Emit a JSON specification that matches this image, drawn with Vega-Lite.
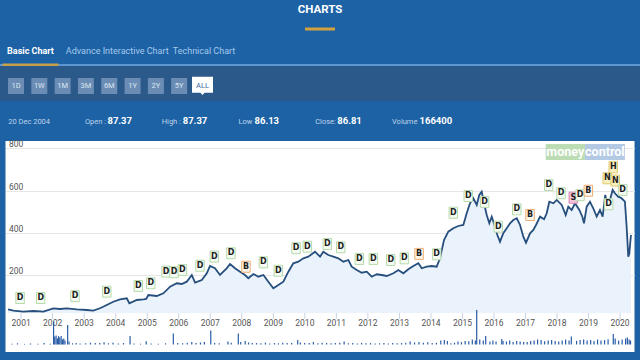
{
  "$schema": "https://vega.github.io/schema/vega-lite/v6.json",
  "background": "#1c62a5",
  "padding": {"left": 0, "right": 0, "top": 0, "bottom": 8},
  "spacing": 0,
  "bounds": "flush",
  "center": true,
  "config": {"view": {"stroke": null}, "font": "Roboto"},
  "vconcat": [
    {
      "width": 640, "height": 20,
      "data": {"values": [{"label": "CHARTS"}]},
      "mark": {"type": "text", "fontSize": 11.5, "fontWeight": "bold", "color": "#ffffff", "baseline": "middle"},
      "encoding": {"text": {"field": "label", "type": "nominal"}}
    },
    {
      "width": 640, "height": 18,
      "data": {"values": [{"k": "underline"}]},
      "mark": {"type": "point", "shape": "M-1,-0.1H1V0.1H-1Z", "size": 900, "filled": true, "color": "#d4a23c", "opacity": 1},
      "encoding": {}
    },
    {
      "width": 640, "height": 26,
      "data": {"values": [{"tab": "Basic Chart"}, {"tab": "Advance Interactive Chart"}, {"tab": "Technical Chart"}]},
      "encoding": {
        "x": {"field": "tab", "type": "nominal", "scale": {"type": "point", "padding": 0, "domain": ["Basic Chart", "Advance Interactive Chart", "Technical Chart"], "range": [30.5, 204]}, "axis": null},
        "text": {"field": "tab", "type": "nominal"}
      },
      "layer": [
        {"transform": [{"filter": "datum.tab === 'Basic Chart'"}], "mark": {"type": "text", "fontSize": 9, "fontWeight": "bold", "color": "#ffffff", "baseline": "middle"}},
        {"transform": [{"filter": "datum.tab !== 'Basic Chart'"}], "mark": {"type": "text", "fontSize": 9, "color": "#a6c8ec", "baseline": "middle"}}
      ]
    },
    {
      "width": 640, "height": 2,
      "view": {"fill": "#5c97d3", "stroke": null},
      "data": {"values": [{"tab": "Basic Chart"}]},
      "mark": {"type": "point", "shape": "M-1,-0.054H1V0.054H-1Z", "size": 3136, "filled": true, "color": "#c9a04a", "opacity": 1},
      "encoding": {
        "x": {"field": "tab", "type": "nominal", "scale": {"type": "point", "padding": 0, "domain": ["Basic Chart", "Advance Interactive Chart", "Technical Chart"], "range": [30.5, 204]}, "axis": null}
      }
    },
    {
      "width": 640, "height": 35,
      "view": {"fill": "#2b598a", "stroke": null},
      "data": {"values": [{"btn": "1D"}, {"btn": "1W"}, {"btn": "1M"}, {"btn": "3M"}, {"btn": "6M"}, {"btn": "1Y"}, {"btn": "2Y"}, {"btn": "5Y"}, {"btn": "ALL"}]},
      "encoding": {
        "x": {"field": "btn", "type": "nominal", "scale": {"type": "point", "padding": 0, "domain": ["1D", "1W", "1M", "3M", "6M", "1Y", "2Y", "5Y", "ALL"], "range": [16, 202.5]}, "axis": null}
      },
      "layer": [
        {"transform": [{"filter": "datum.btn !== 'ALL'"}], "mark": {"type": "point", "shape": "M-1,-0.69H1V1.31H-1Z", "size": 256, "filled": true, "color": "#6b8db5", "opacity": 1}},
        {"transform": [{"filter": "datum.btn === 'ALL'"}], "mark": {"type": "point", "shape": "M-1,-0.65H1V0.88H0.2L0,1.1L-0.2,0.88H-1Z", "size": 441, "filled": true, "color": "#ffffff", "opacity": 1}},
        {"mark": {"type": "text", "fontSize": 7.5, "dy": 2, "baseline": "middle"},
         "encoding": {"text": {"field": "btn", "type": "nominal"}, "color": {"condition": {"test": "datum.btn === 'ALL'", "value": "#3a6ba0"}, "value": "#dce6f1"}}}
      ]
    },
    {
      "width": 640, "height": 40,
      "data": {"values": [
        {"item": "date", "label": "20 Dec 2004"},
        {"item": "open", "label": "Open :", "value": 87.37},
        {"item": "high", "label": "High :", "value": 87.37},
        {"item": "low", "label": "Low", "value": 86.13},
        {"item": "close", "label": "Close:", "value": 86.81},
        {"item": "volume", "label": "Volume", "value": 166400}
      ]},
      "encoding": {
        "x": {"field": "item", "type": "nominal", "scale": {"type": "point", "padding": 0, "domain": ["date", "open", "high", "low", "close", "volume"], "range": [8.2, 392]}, "axis": null}
      },
      "layer": [
        {"mark": {"type": "text", "fontSize": 7.5, "color": "#bfd3ea", "align": "left", "baseline": "middle", "dy": 1},
         "encoding": {"text": {"field": "label", "type": "nominal"}}},
        {"transform": [{"filter": "datum.item === 'open'"}],
         "mark": {"type": "text", "fontSize": 9.5, "fontWeight": "bold", "color": "#ffffff", "align": "left", "baseline": "middle", "dx": 22.5},
         "encoding": {"text": {"field": "value", "type": "nominal"}}},
        {"transform": [{"filter": "datum.item === 'high'"}],
         "mark": {"type": "text", "fontSize": 9.5, "fontWeight": "bold", "color": "#ffffff", "align": "left", "baseline": "middle", "dx": 21},
         "encoding": {"text": {"field": "value", "type": "nominal"}}},
        {"transform": [{"filter": "datum.item === 'low'"}],
         "mark": {"type": "text", "fontSize": 9.5, "fontWeight": "bold", "color": "#ffffff", "align": "left", "baseline": "middle", "dx": 16},
         "encoding": {"text": {"field": "value", "type": "nominal"}}},
        {"transform": [{"filter": "datum.item === 'close'"}],
         "mark": {"type": "text", "fontSize": 9.5, "fontWeight": "bold", "color": "#ffffff", "align": "left", "baseline": "middle", "dx": 22},
         "encoding": {"text": {"field": "value", "type": "nominal"}}},
        {"transform": [{"filter": "datum.item === 'volume'"}],
         "mark": {"type": "text", "fontSize": 9.5, "fontWeight": "bold", "color": "#ffffff", "align": "left", "baseline": "middle", "dx": 27.5},
         "encoding": {"text": {"field": "value", "type": "nominal"}}}
      ]
    },
    {
      "width": 629, "height": 211,
      "view": {"fill": "#ffffff", "stroke": null},
      "resolve": {"scale": {"y": "independent"}, "axis": {"y": "independent"}},
      "layer": [
        {
          "data": {"values": [
            {"date": "2000-08-03", "close": 36.6}, {"date": "2000-10-03", "close": 30.9}, {"date": "2001-01-27", "close": 26.2},
            {"date": "2001-05-23", "close": 29.5}, {"date": "2001-09-16", "close": 26.2}, {"date": "2002-01-09", "close": 42.3},
            {"date": "2002-03-28", "close": 39.0}, {"date": "2002-06-14", "close": 42.3}, {"date": "2002-10-08", "close": 37.5},
            {"date": "2003-02-01", "close": 34.2}, {"date": "2003-04-17", "close": 30.9}, {"date": "2003-07-04", "close": 42.3},
            {"date": "2003-09-20", "close": 57.9}, {"date": "2003-12-05", "close": 73.5}, {"date": "2004-02-21", "close": 84.9},
            {"date": "2004-05-09", "close": 89.6}, {"date": "2004-06-08", "close": 66.0}, {"date": "2004-09-02", "close": 81.6},
            {"date": "2004-11-18", "close": 84.9}, {"date": "2004-12-20", "close": 86.81}, {"date": "2005-01-14", "close": 105.3},
            {"date": "2005-04-21", "close": 100.5}, {"date": "2005-07-07", "close": 113.3}, {"date": "2005-09-23", "close": 144.6},
            {"date": "2005-12-09", "close": 160.7}, {"date": "2006-02-05", "close": 157.4}, {"date": "2006-04-04", "close": 168.3},
            {"date": "2006-06-01", "close": 200.0}, {"date": "2006-07-09", "close": 163.5}, {"date": "2006-09-25", "close": 176.3},
            {"date": "2006-11-22", "close": 208.1}, {"date": "2006-12-29", "close": 242.6}, {"date": "2007-02-25", "close": 231.7},
            {"date": "2007-04-24", "close": 200.0}, {"date": "2007-07-10", "close": 231.7}, {"date": "2007-08-18", "close": 252.1},
            {"date": "2007-10-15", "close": 231.7}, {"date": "2007-12-12", "close": 215.6}, {"date": "2008-02-08", "close": 200.0},
            {"date": "2008-03-17", "close": 184.4}, {"date": "2008-05-15", "close": 204.7}, {"date": "2008-07-11", "close": 191.9},
            {"date": "2008-09-08", "close": 200.0}, {"date": "2008-11-04", "close": 168.3}, {"date": "2009-01-01", "close": 137.0},
            {"date": "2009-02-28", "close": 152.6}, {"date": "2009-04-27", "close": 168.3}, {"date": "2009-06-24", "close": 215.6},
            {"date": "2009-08-20", "close": 255.4}, {"date": "2009-10-18", "close": 263.0}, {"date": "2009-12-14", "close": 279.1},
            {"date": "2010-02-10", "close": 286.7}, {"date": "2010-04-29", "close": 310.4}, {"date": "2010-06-26", "close": 286.7},
            {"date": "2010-08-03", "close": 310.4}, {"date": "2010-09-30", "close": 294.7}, {"date": "2010-11-27", "close": 286.7},
            {"date": "2011-01-24", "close": 279.1}, {"date": "2011-03-23", "close": 263.0}, {"date": "2011-05-20", "close": 271.1},
            {"date": "2011-06-28", "close": 239.3}, {"date": "2011-08-25", "close": 223.7}, {"date": "2011-10-22", "close": 210.9},
            {"date": "2011-12-19", "close": 215.6}, {"date": "2012-02-15", "close": 191.9}, {"date": "2012-04-13", "close": 203.3},
            {"date": "2012-06-10", "close": 200.0}, {"date": "2012-08-07", "close": 195.3}, {"date": "2012-10-23", "close": 208.1},
            {"date": "2012-12-19", "close": 223.7}, {"date": "2013-02-15", "close": 208.1}, {"date": "2013-04-14", "close": 227.0},
            {"date": "2013-06-11", "close": 242.6}, {"date": "2013-08-08", "close": 255.4}, {"date": "2013-09-16", "close": 231.7},
            {"date": "2013-11-13", "close": 239.3}, {"date": "2014-01-10", "close": 242.6}, {"date": "2014-03-08", "close": 239.3},
            {"date": "2014-04-16", "close": 279.1}, {"date": "2014-06-01", "close": 365.8}, {"date": "2014-07-21", "close": 405.1},
            {"date": "2014-09-17", "close": 421.2}, {"date": "2014-11-13", "close": 432.1}, {"date": "2015-01-11", "close": 436.9},
            {"date": "2015-02-19", "close": 492.3}, {"date": "2015-03-29", "close": 539.6}, {"date": "2015-05-07", "close": 563.3},
            {"date": "2015-06-15", "close": 531.6}, {"date": "2015-07-15", "close": 578.9}, {"date": "2015-08-12", "close": 594.6},
            {"date": "2015-09-08", "close": 539.6}, {"date": "2015-10-09", "close": 484.2}, {"date": "2015-11-08", "close": 444.9},
            {"date": "2015-12-06", "close": 476.2}, {"date": "2016-01-13", "close": 428.8}, {"date": "2016-02-09", "close": 389.5},
            {"date": "2016-03-11", "close": 357.7}, {"date": "2016-04-18", "close": 397.5}, {"date": "2016-05-28", "close": 421.2},
            {"date": "2016-07-05", "close": 444.9}, {"date": "2016-08-12", "close": 460.5}, {"date": "2016-09-21", "close": 468.6},
            {"date": "2016-10-29", "close": 436.9}, {"date": "2016-12-06", "close": 381.4}, {"date": "2017-01-06", "close": 353.0},
            {"date": "2017-02-22", "close": 397.5}, {"date": "2017-04-01", "close": 413.2}, {"date": "2017-05-02", "close": 436.9},
            {"date": "2017-06-18", "close": 476.2}, {"date": "2017-08-03", "close": 463.9}, {"date": "2017-09-03", "close": 492.3},
            {"date": "2017-10-03", "close": 547.2}, {"date": "2017-11-19", "close": 539.6}, {"date": "2017-12-28", "close": 555.3},
            {"date": "2018-02-24", "close": 531.6}, {"date": "2018-04-11", "close": 484.2}, {"date": "2018-05-11", "close": 523.5},
            {"date": "2018-06-19", "close": 507.9}, {"date": "2018-07-28", "close": 539.6}, {"date": "2018-09-16", "close": 507.9},
            {"date": "2018-10-21", "close": 476.2}, {"date": "2018-11-09", "close": 444.9}, {"date": "2018-12-10", "close": 523.5},
            {"date": "2019-01-17", "close": 547.2}, {"date": "2019-02-24", "close": 516.0}, {"date": "2019-04-05", "close": 476.2},
            {"date": "2019-05-13", "close": 507.9}, {"date": "2019-06-13", "close": 476.2}, {"date": "2019-07-13", "close": 579.0},
            {"date": "2019-08-05", "close": 539.6}, {"date": "2019-09-05", "close": 555.3}, {"date": "2019-10-07", "close": 602.6},
            {"date": "2019-11-02", "close": 587.0}, {"date": "2019-12-10", "close": 570.9}, {"date": "2020-01-19", "close": 563.3},
            {"date": "2020-02-26", "close": 547.2}, {"date": "2020-03-17", "close": 428.8}, {"date": "2020-04-05", "close": 286.7},
            {"date": "2020-04-16", "close": 300.4}, {"date": "2020-05-06", "close": 389.5}
          ]},
          "encoding": {
            "x": {"field": "date", "type": "temporal",
                  "scale": {"domain": [{"year": 2000, "month": 7, "date": 4}, {"year": 2020, "month": 6, "date": 16}]},
                  "axis": null},
            "y": {"field": "close", "type": "quantitative",
                  "scale": {"domain": [-164.7, 834.6], "nice": false, "zero": false},
                  "axis": {"orient": "left", "values": [200, 400, 600, 800], "grid": true, "gridColor": "#e6e6e6", "domain": false,
                           "ticks": false, "tickSize": 0, "labelAlign": "left", "labelPadding": -3, "labelBaseline": "alphabetic",
                           "labelOffset": -1.5, "labelColor": "#555555", "labelFontSize": 8.5, "title": null}}
          },
          "layer": [
            {"mark": {"type": "area", "color": "#eaf2fb", "opacity": 1}, "encoding": {"y2": {"datum": 20}}},
            {"mark": {"type": "line", "color": "#264f7d", "strokeWidth": 1.8}}
          ]
        },
        {
          "data": {"values": [
            {"date": "2001-01-01"}, {"date": "2002-01-01"}, {"date": "2003-01-01"}, {"date": "2004-01-01"}, {"date": "2005-01-01"},
            {"date": "2006-01-01"}, {"date": "2007-01-01"}, {"date": "2008-01-01"}, {"date": "2009-01-01"}, {"date": "2010-01-01"},
            {"date": "2011-01-01"}, {"date": "2012-01-01"}, {"date": "2013-01-01"}, {"date": "2014-01-01"}, {"date": "2015-01-01"},
            {"date": "2016-01-01"}, {"date": "2017-01-01"}, {"date": "2018-01-01"}, {"date": "2019-01-01"}, {"date": "2020-01-01"}
          ]},
          "encoding": {
            "x": {"field": "date", "type": "temporal", "scale": {"domain": [{"year": 2000, "month": 7, "date": 4}, {"year": 2020, "month": 6, "date": 16}]}, "axis": null}
          },
          "layer": [
            {"mark": {"type": "rule", "color": "#c9d3e6", "strokeWidth": 1},
             "encoding": {
               "y": {"datum": 20, "type": "quantitative", "scale": {"domain": [-164.7, 834.6], "nice": false, "zero": false}, "axis": null},
               "y2": {"datum": -8.4}
             }},
            {"mark": {"type": "text", "color": "#555555", "fontSize": 8.5, "baseline": "middle"},
             "encoding": {
               "y": {"datum": -28, "type": "quantitative", "scale": {"domain": [-164.7, 834.6], "nice": false, "zero": false}, "axis": null},
               "text": {"field": "date", "type": "temporal", "timeUnit": "utcyear", "format": "%Y"}
             }}
          ]
        },
        {
          "data": {"values": [
            {"date": "2000-09-15", "volume": 40}, {"date": "2000-11-20", "volume": 60},
            {"date": "2001-02-10", "volume": 30}, {"date": "2001-04-20", "volume": 50}, {"date": "2001-07-15", "volume": 40}, {"date": "2001-09-25", "volume": 70}, {"date": "2001-12-05", "volume": 40},
            {"date": "2002-01-12", "volume": 1150}, {"date": "2002-01-25", "volume": 400}, {"date": "2002-02-10", "volume": 450}, {"date": "2002-02-25", "volume": 300},
            {"date": "2002-03-10", "volume": 420}, {"date": "2002-03-25", "volume": 350}, {"date": "2002-04-10", "volume": 425}, {"date": "2002-04-25", "volume": 250},
            {"date": "2002-05-10", "volume": 300}, {"date": "2002-05-25", "volume": 200}, {"date": "2002-06-24", "volume": 975}, {"date": "2002-07-10", "volume": 150},
            {"date": "2002-08-20", "volume": 60}, {"date": "2002-10-01", "volume": 80}, {"date": "2002-11-15", "volume": 50},
            {"date": "2003-01-20", "volume": 60}, {"date": "2003-03-15", "volume": 90}, {"date": "2003-05-10", "volume": 70}, {"date": "2003-07-01", "volume": 80},
            {"date": "2003-08-20", "volume": 110}, {"date": "2003-10-10", "volume": 60}, {"date": "2003-12-01", "volume": 90},
            {"date": "2004-02-01", "volume": 50}, {"date": "2004-04-01", "volume": 70}, {"date": "2004-06-16", "volume": 425}, {"date": "2004-08-01", "volume": 50},
            {"date": "2004-10-15", "volume": 40}, {"date": "2004-12-20", "volume": 166},
            {"date": "2005-02-15", "volume": 50}, {"date": "2005-05-10", "volume": 40}, {"date": "2005-08-01", "volume": 60}, {"date": "2005-10-30", "volume": 550}, {"date": "2005-12-20", "volume": 70},
            {"date": "2006-02-15", "volume": 60}, {"date": "2006-04-10", "volume": 90}, {"date": "2006-06-01", "volume": 120}, {"date": "2006-07-20", "volume": 80},
            {"date": "2006-09-10", "volume": 100}, {"date": "2006-10-25", "volume": 130},
            {"date": "2007-01-07", "volume": 700}, {"date": "2007-02-20", "volume": 80}, {"date": "2007-04-15", "volume": 60}, {"date": "2007-07-25", "volume": 150},
            {"date": "2007-09-01", "volume": 90}, {"date": "2007-11-22", "volume": 550}, {"date": "2007-12-20", "volume": 120},
            {"date": "2008-02-10", "volume": 175}, {"date": "2008-03-20", "volume": 100}, {"date": "2008-05-01", "volume": 80}, {"date": "2008-06-20", "volume": 70},
            {"date": "2008-08-10", "volume": 60}, {"date": "2008-10-01", "volume": 90}, {"date": "2008-11-20", "volume": 50},
            {"date": "2009-01-15", "volume": 70}, {"date": "2009-03-01", "volume": 60}, {"date": "2009-04-20", "volume": 90}, {"date": "2009-06-10", "volume": 80},
            {"date": "2009-08-01", "volume": 70}, {"date": "2009-10-10", "volume": 225}, {"date": "2009-11-10", "volume": 100}, {"date": "2009-12-30", "volume": 70},
            {"date": "2010-02-20", "volume": 80}, {"date": "2010-04-10", "volume": 120}, {"date": "2010-06-01", "volume": 60}, {"date": "2010-07-20", "volume": 90},
            {"date": "2010-09-10", "volume": 70}, {"date": "2010-11-01", "volume": 60}, {"date": "2010-12-20", "volume": 80},
            {"date": "2011-02-10", "volume": 90}, {"date": "2011-04-01", "volume": 150}, {"date": "2011-05-20", "volume": 60}, {"date": "2011-07-10", "volume": 70},
            {"date": "2011-09-01", "volume": 50}, {"date": "2011-10-20", "volume": 80}, {"date": "2011-12-10", "volume": 60},
            {"date": "2012-02-01", "volume": 70}, {"date": "2012-03-25", "volume": 50}, {"date": "2012-05-15", "volume": 60}, {"date": "2012-07-05", "volume": 70},
            {"date": "2012-08-25", "volume": 50}, {"date": "2012-10-15", "volume": 80}, {"date": "2012-12-05", "volume": 60},
            {"date": "2013-01-25", "volume": 70}, {"date": "2013-03-15", "volume": 90}, {"date": "2013-05-05", "volume": 150}, {"date": "2013-06-25", "volume": 100},
            {"date": "2013-08-15", "volume": 120}, {"date": "2013-10-05", "volume": 90}, {"date": "2013-11-25", "volume": 110},
            {"date": "2014-01-15", "volume": 80}, {"date": "2014-03-05", "volume": 90}, {"date": "2014-04-25", "volume": 200}, {"date": "2014-06-05", "volume": 220},
            {"date": "2014-07-10", "volume": 180}, {"date": "2014-08-20", "volume": 60}, {"date": "2014-10-01", "volume": 90}, {"date": "2014-11-10", "volume": 150}, {"date": "2014-12-20", "volume": 120},
            {"date": "2015-02-01", "volume": 180}, {"date": "2015-03-15", "volume": 160}, {"date": "2015-04-25", "volume": 250}, {"date": "2015-05-30", "volume": 200},
            {"date": "2015-06-15", "volume": 1725}, {"date": "2015-07-20", "volume": 250}, {"date": "2015-08-30", "volume": 200}, {"date": "2015-09-27", "volume": 425},
            {"date": "2015-11-15", "volume": 150}, {"date": "2015-12-20", "volume": 200},
            {"date": "2016-01-25", "volume": 150}, {"date": "2016-03-31", "volume": 275}, {"date": "2016-04-15", "volume": 180}, {"date": "2016-05-25", "volume": 150},
            {"date": "2016-07-01", "volume": 200}, {"date": "2016-08-10", "volume": 120}, {"date": "2016-09-20", "volume": 180}, {"date": "2016-10-30", "volume": 150}, {"date": "2016-12-10", "volume": 130},
            {"date": "2017-01-20", "volume": 120}, {"date": "2017-03-01", "volume": 180}, {"date": "2017-04-10", "volume": 200}, {"date": "2017-05-20", "volume": 250},
            {"date": "2017-06-30", "volume": 220}, {"date": "2017-08-10", "volume": 160}, {"date": "2017-09-20", "volume": 200}, {"date": "2017-10-30", "volume": 230}, {"date": "2017-12-10", "volume": 180},
            {"date": "2018-01-20", "volume": 150}, {"date": "2018-03-01", "volume": 200}, {"date": "2018-04-10", "volume": 250}, {"date": "2018-05-20", "volume": 200},
            {"date": "2018-06-15", "volume": 400}, {"date": "2018-08-15", "volume": 180}, {"date": "2018-09-25", "volume": 220}, {"date": "2018-11-05", "volume": 250}, {"date": "2018-12-15", "volume": 200},
            {"date": "2019-01-25", "volume": 230}, {"date": "2019-03-05", "volume": 180}, {"date": "2019-04-15", "volume": 250}, {"date": "2019-05-25", "volume": 200},
            {"date": "2019-07-05", "volume": 220}, {"date": "2019-08-15", "volume": 260}, {"date": "2019-10-14", "volume": 525}, {"date": "2019-11-05", "volume": 300}, {"date": "2019-12-15", "volume": 200},
            {"date": "2020-01-25", "volume": 250}, {"date": "2020-03-05", "volume": 300}, {"date": "2020-03-25", "volume": 350}, {"date": "2020-04-15", "volume": 250}, {"date": "2020-05-01", "volume": 200}
          ]},
          "mark": {"type": "rule", "color": "#2a5ca6", "strokeWidth": 1.2},
          "encoding": {
            "x": {"field": "date", "type": "temporal", "scale": {"domain": [{"year": 2000, "month": 7, "date": 4}, {"year": 2020, "month": 6, "date": 16}]}, "axis": null},
            "y": {"field": "volume", "type": "quantitative", "scale": {"domain": [-375, 10175], "nice": false, "zero": false}, "axis": null},
            "y2": {"datum": 0}
          }
        },
        {
          "data": {"values": [
            {"date": "2000-12-20", "level": 91, "type": "D"}, {"date": "2001-08-16", "level": 91, "type": "D"},
            {"date": "2002-09-17", "level": 100, "type": "D"}, {"date": "2003-09-20", "level": 121, "type": "D"},
            {"date": "2004-09-20", "level": 148, "type": "D"}, {"date": "2005-02-11", "level": 161, "type": "D"},
            {"date": "2005-08-07", "level": 216, "type": "D"}, {"date": "2005-11-07", "level": 213, "type": "D"},
            {"date": "2006-02-12", "level": 224, "type": "D"}, {"date": "2006-09-05", "level": 244, "type": "D"},
            {"date": "2007-02-17", "level": 287, "type": "D"}, {"date": "2007-08-29", "level": 303, "type": "D"},
            {"date": "2008-02-19", "level": 239, "type": "B"}, {"date": "2008-09-08", "level": 260, "type": "D"},
            {"date": "2009-02-28", "level": 220, "type": "D"}, {"date": "2009-09-21", "level": 327, "type": "D"},
            {"date": "2010-01-30", "level": 334, "type": "D"}, {"date": "2010-09-18", "level": 347, "type": "D"},
            {"date": "2011-02-21", "level": 331, "type": "D"}, {"date": "2011-09-24", "level": 276, "type": "D"},
            {"date": "2012-03-05", "level": 276, "type": "D"}, {"date": "2012-09-22", "level": 271, "type": "D"},
            {"date": "2013-02-27", "level": 279, "type": "D"}, {"date": "2013-08-16", "level": 300, "type": "B"},
            {"date": "2014-03-08", "level": 298, "type": "D"}, {"date": "2014-09-17", "level": 495, "type": "D"},
            {"date": "2015-03-09", "level": 574, "type": "D"}, {"date": "2015-09-15", "level": 546, "type": "D"},
            {"date": "2016-02-20", "level": 429, "type": "D"}, {"date": "2016-09-21", "level": 511, "type": "D"},
            {"date": "2017-02-22", "level": 484, "type": "B"}, {"date": "2017-09-26", "level": 626, "type": "D"},
            {"date": "2018-02-16", "level": 587, "type": "D"}, {"date": "2018-07-08", "level": 566, "type": "S"},
            {"date": "2018-09-24", "level": 578, "type": "D"}, {"date": "2018-12-29", "level": 599, "type": "B"},
            {"date": "2019-08-05", "level": 658, "type": "N"}, {"date": "2019-08-21", "level": 535, "type": "D"},
            {"date": "2019-10-14", "level": 710, "type": "H"}, {"date": "2019-11-06", "level": 647, "type": "N"},
            {"date": "2020-01-31", "level": 603, "type": "D"}
          ]},
          "encoding": {
            "x": {"field": "date", "type": "temporal", "scale": {"domain": [{"year": 2000, "month": 7, "date": 4}, {"year": 2020, "month": 6, "date": 16}]}, "axis": null},
            "y": {"field": "level", "type": "quantitative", "scale": {"domain": [-164.7, 834.6], "nice": false, "zero": false}, "axis": null}
          },
          "layer": [
            {"mark": {"type": "point", "shape": "M-0.77,-1H0.77V1H-0.77Z", "size": 121, "filled": true, "opacity": 1, "strokeWidth": 1},
             "encoding": {
               "fill": {"field": "type", "type": "nominal", "scale": {"domain": ["D", "B", "S", "N", "H"], "range": ["#f5fbf2", "#fdf6ec", "#f3c5dc", "#f7efc0", "#f7efc0"]}, "legend": null},
               "stroke": {"field": "type", "type": "nominal", "scale": {"domain": ["D", "B", "S", "N", "H"], "range": ["#b5dbab", "#f0ad72", "#d685b4", "#dfc86c", "#dfc86c"]}, "legend": null}
             }},
            {"mark": {"type": "text", "fontSize": 8, "fontWeight": "bold", "color": "#1e1e1e", "font": "DejaVu Sans", "baseline": "middle"},
             "encoding": {"text": {"field": "type", "type": "nominal"}}}
          ]
        },
        {
          "data": {"values": [{"brand": "moneycontrol"}]},
          "encoding": {
            "y": {"datum": 820, "type": "quantitative", "scale": {"domain": [-164.7, 834.6], "nice": false, "zero": false}, "axis": null},
            "y2": {"datum": 745}
          },
          "layer": [
            {"mark": {"type": "rect", "color": "#bcdcb4"},
             "encoding": {"x": {"datum": {"year": 2017, "month": 8, "date": 22}, "type": "temporal", "axis": null}, "x2": {"datum": {"year": 2018, "month": 11, "date": 20}}}},
            {"mark": {"type": "rect", "color": "#b3c9e4"},
             "encoding": {"x": {"datum": {"year": 2018, "month": 11, "date": 20}, "type": "temporal", "axis": null}, "x2": {"datum": {"year": 2020, "month": 2, "date": 26}}}}
          ]
        },
        {
          "data": {"values": [{"brand": "moneycontrol"}]},
          "encoding": {
            "y": {"datum": 782, "type": "quantitative", "scale": {"domain": [-164.7, 834.6], "nice": false, "zero": false}, "axis": null}
          },
          "layer": [
            {"mark": {"type": "text", "text": "money", "fontSize": 12.5, "fontWeight": "bold", "color": "#ffffff", "baseline": "middle"},
             "encoding": {"x": {"datum": {"year": 2018, "month": 4, "date": 6}, "type": "temporal", "axis": null}}},
            {"mark": {"type": "text", "text": "control", "fontSize": 12.5, "fontWeight": "bold", "color": "#ffffff", "baseline": "middle"},
             "encoding": {"x": {"datum": {"year": 2019, "month": 7, "date": 9}, "type": "temporal", "axis": null}}}
          ]
        }
      ]
    }
  ]
}
